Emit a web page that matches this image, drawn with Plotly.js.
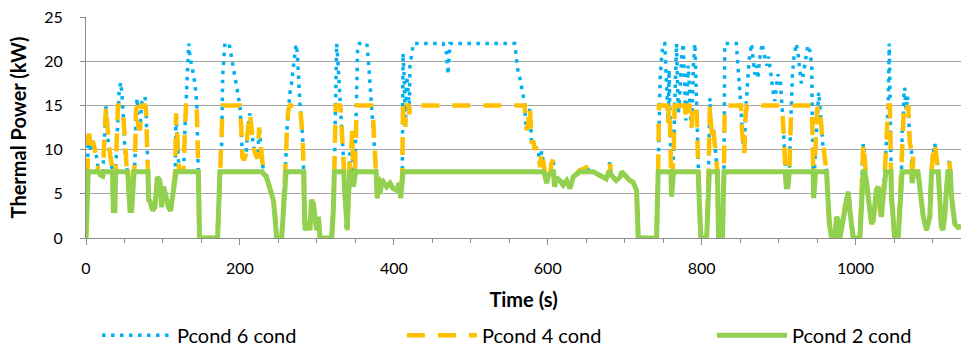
<!DOCTYPE html>
<html>
<head>
<meta charset="utf-8">
<script src="https://cdn.plot.ly/plotly-3.0.1.min.js"></script>
<style>html,body{margin:0;padding:0;background:#fff;}#chart{width:961px;height:350px;}</style>
</head>
<body>
<div id="chart"></div>
<script>
// Time (s)
var timeS = [
0,2,3,4.3,6,8.7,10.4,13,14.7,16,
19,21.7,23,24.5,26,27.5,29,31.2,33.3,34.5,
35.5,37.5,38.5,39.5,40.5,41.5,43,45,46.5,48,
49.5,51,52.8,54,55,57.2,59.3,61,62.5,63.7,
65,66.5,68,70.2,72.3,74.5,76.7,78,79.5,80.5,
81.5,83,86.6,89.6,92.7,96,98.3,100.5,104,107,
110,113.5,116,117,118,119.5,121,126,127,128.6,
130,131.5,132.5,133.5,135,137.3,139.5,141.6,143.8,145,
146,147.5,171,174,175,176.3,177.6,179.3,180.5,186,
189,192,195,198,200,202,203,205,208,210,
213,215,217,220,223,225,227,229,231,234,
237,241,243.4,245.6,247.7,254.2,256.4,258.6,260,261,
263,265,267,269,271,273,274.5,275.5,277,278,
280,281.5,282.5,283,283.5,284,284.6,286.8,289,291,
293,295.4,297.5,299.7,302,304,319.2,321.4,322.7,323.5,
324.5,325.7,327,328.5,330,331,332.2,334.4,335,336.5,
338,339.5,341,342,343,345,346,347,347.5,349.5,
350.5,351.7,353,355,365,367,369,371,373.3,375.5,
377,378.5,380,382,384,386,390.7,395,399,403.7,
407,409,411,412,413.5,415,416.7,418.8,420,421,
423,425.3,464,466,468.6,469.5,470.5,471.5,473,557,
558.5,559.6,561.7,564,566,568,570,571,572.6,574.7,
576.9,578,579,581,583,585,588,590,592,594,
596,598.6,601,603,605,607.2,609,611.6,614,616,
620,624.6,629,633,637.5,642,646,650,654,659,
663,668,672,676,679,680.8,682,685,689,694,
696,698,702,706.7,711,715.4,717.6,741.4,743.5,744.5,
746,748,750,752,753.5,755,756.6,757.7,759,760,
761,762,763.5,765,766.5,767.4,768.5,769.6,771,773,
774.5,776,777,778.2,779.5,781,782.5,784,785,786.9,
788,789.5,791.2,792.5,793.5,794.5,795.5,797,799,806.5,
809,810,810.7,812,813.5,815,817,819,820.5,822,
827,829,830,845,847,849,851,852.5,854,855.5,
857,859,861.5,864.8,867,869,871,873,875,877,
878.5,880.5,883,885,887,889,891,893,895,897,
899,902,904,905.5,907,908.5,910,912,914,915,
916.5,918,920,923,925,926.5,928,929.5,931,933,
935,938,940,941.5,943,944,945,945.5,946.5,948,
950,952,954,956,958,960,962.3,964,966,968.8,
973,975.3,977.5,979.6,983,988,990.4,992.6,994.8,997,
1005.6,1007.7,1010,1012,1014,1018.6,1020.8,1023,1027,1029.4,
1031.6,1033.7,1035.9,1038,1039.5,1041,1042.5,1043.7,1044.6,1045.5,
1046,1046.7,1048.9,1051,1055.4,1057.6,1059.7,1060.5,1062,1063,
1064,1065,1066.2,1067.3,1068.4,1069.5,1070.6,1072.7,1073.5,1074.9,
1076,1081,1083,1085,1088,1092.2,1096.5,1098.7,1100,1103,
1105,1106.5,1107.5,1109,1111.5,1113.6,1115.8,1118,1120,1121.7,
1123,1124.6,1127,1129,1133,1137
];

// Pcond 6 cond (kW)
var pcond6 = [
0,8.8,11.5,11.8,10,11,10.3,9.2,8.8,7.5,
7.1,7.0,10,13.4,14.9,13,10.7,9.5,8.4,7.5,
3.1,3.1,7.5,9.5,12.5,15,16.5,17.6,16.5,14.5,
11.8,9.2,8,7.5,6.5,3.1,3.1,7.5,7.5,8.8,
14.4,15.8,12.5,12.2,15.3,15.6,16,14.5,9,7.5,
4.3,4.2,3.1,3.5,6.9,6.5,3.5,5.8,4.7,3.5,
3.1,5.8,7.5,14.1,12,9.5,7.5,7.5,8,12.5,
15.5,19,21.5,22,20.5,19.7,18.6,17.4,15.5,11,
7.5,0,0,7.5,9,10.7,18.3,21.7,22,22,
20.5,19,17.5,16,15,12,9.2,8.8,9.5,12,
14.1,12.5,10.7,9.5,9,12.5,10,8.8,7.2,7.0,
6.2,5,4.3,2.4,0,0,3.1,7.5,9.5,12.2,
14.5,16.4,17.5,19,20.5,21.9,21,19,17,15.2,
13,11.5,8.5,7.5,4.7,1.6,0.9,1.2,2.0,0.9,
4.3,3.9,2.4,0.9,2.4,0,0,3.1,7.5,12,
17,22,20.5,18.5,16.4,14.5,12.6,9.2,7.5,4.7,
1.25,0.9,4.7,7.5,9.5,10.5,12.2,7.5,5.8,7.5,
12,18.3,21.8,22,22,20,17.5,15.5,13.2,9.8,
7.5,4.5,6.9,5,6.2,6.4,5.8,6.2,5.6,5.4,
6.2,4.5,7.5,20.9,18,12.6,18.3,16.4,14,19.5,
21,22,22,21.5,20.9,19.4,18.5,20,22,22,
21,20.7,18.6,18,17.2,16,15.2,13.3,12.2,13,
14.8,12.6,10.7,11,10,10.3,9.6,8.0,9.8,8.8,
7.2,6.2,7.1,7.3,8.5,8.9,5.8,6.9,6.5,6.5,
6.0,6.5,5.6,6.9,7.3,7.7,7.8,8.0,7.6,7.5,
7.3,7.1,6.9,6.7,7.4,8.8,7.2,6.9,6.5,6.9,
7.5,7.3,6.9,6.5,6.3,5.4,0,0,7.5,15,
18,20.5,22,22,19,17,13,19,12.5,8,
4.7,7.5,9.5,15,20,22,18,14,15.5,19,
21,22,20,17,13.3,15.5,19.5,17,14,12.5,
16,20,22,18,14,10,7.5,4,0,0,
7.5,12,15.8,13,11.5,12.5,10.5,9,7.5,0,
0,7.5,22,22,20,17.5,15,12,10.7,9.5,
14,17.5,20,22,20,18.5,19.5,18,20,21,
22,21,20,19.5,20.5,19,18,16.5,15.5,17.5,
18.5,18,16,13.5,11,9,5.8,5.8,7.5,11,
15,18.5,20.5,22,21,19.5,18.5,17.5,18,19,
20.5,21.8,21.5,20.5,19.5,12,7.5,4.5,7.5,10,
14.5,16.5,14.5,12,10,9,7.5,4.7,1.6,0,
0,2.4,2.0,0,1.6,4.7,5.2,3.1,0.9,0,
0,4.7,10.7,8.8,6.5,3.1,1.6,2.0,5.4,5.8,
3.1,2.4,4.7,7.5,10,13,15.5,22,15,10,
7.5,4.7,1.6,0,0,4.7,7.5,12,13.7,16.5,
17,15,14.5,16,15.5,12.5,10.7,10,6.2,9.2,
7.5,7.5,6.2,4.7,2.4,0.9,2.4,7.5,9,10.7,
9.5,8,7.5,5,1.25,0.9,2.4,5.4,7.5,8.8,
7.5,4.7,2.4,1.6,1.2,1.3
];

// Pcond 4 cond (kW)
var pcond4 = [
0,8.8,11.5,11.8,10,11,10.3,9.2,8.8,7.5,
7.1,7.0,10,13.4,14.9,13,10.7,9.5,8.4,7.5,
3.1,3.1,7.5,9.5,12.5,15,15,15,15,14.5,
11.8,9.2,8,7.5,6.5,3.1,3.1,7.5,7.5,8.8,
14.4,15,12.5,12.2,15,15,15,14.5,9,7.5,
4.3,4.2,3.1,3.5,6.9,6.5,3.5,5.8,4.7,3.5,
3.1,5.8,7.5,14.1,12,9.5,7.5,7.5,8,12.5,
15,15,15,15,15,15,15,15,15,11,
7.5,0,0,7.5,9,10.7,15,15,15,15,
15,15,15,15,15,12,9.2,8.8,9.5,12,
14.1,12.5,10.7,9.5,9,12.5,10,8.8,7.2,7.0,
6.2,5,4.3,2.4,0,0,3.1,7.5,9.5,12.2,
14.5,15,15,15,15,15,15,15,15,15,
13,11.5,8.5,7.5,4.7,1.6,0.9,1.2,2.0,0.9,
4.3,3.9,2.4,0.9,2.4,0,0,3.1,7.5,12,
15,15,15,15,15,14.5,12.6,9.2,7.5,4.7,
1.25,0.9,4.7,7.5,9.5,10.5,12.2,7.5,5.8,7.5,
12,15,15,15,15,15,15,15,13.2,9.8,
7.5,4.5,6.9,5,6.2,6.4,5.8,6.2,5.6,5.4,
6.2,4.5,7.5,15,15,12.6,15,15,14,15,
15,15,15,15,15,15,15,15,15,15,
15,15,15,15,15,15,15,13.3,12.2,13,
14.8,12.6,10.7,11,10,10.3,9.6,8.0,9.8,8.8,
7.2,6.2,7.1,7.3,8.5,8.9,5.8,6.9,6.5,6.5,
6.0,6.5,5.6,6.9,7.3,7.7,7.8,8.0,7.6,7.5,
7.3,7.1,6.9,6.7,7.4,8.8,7.2,6.9,6.5,6.9,
7.5,7.3,6.9,6.5,6.3,5.4,0,0,7.5,15,
15,15,15,15,15,15,13,15,12.5,8,
4.7,7.5,9.5,15,15,15,15,14,15,15,
15,15,15,15,13.3,15,15,15,14,12.5,
15,15,15,15,14,10,7.5,4,0,0,
7.5,12,15,13,11.5,12.5,10.5,9,7.5,0,
0,7.5,15,15,15,15,15,12,10.7,9.5,
14,15,15,15,15,15,15,15,15,15,
15,15,15,15,15,15,15,15,15,15,
15,15,15,13.5,11,9,5.8,5.8,7.5,11,
15,15,15,15,15,15,15,15,15,15,
15,15,15,15,15,12,7.5,4.5,7.5,10,
14.5,15,14.5,12,10,9,7.5,4.7,1.6,0,
0,2.4,2.0,0,1.6,4.7,5.2,3.1,0.9,0,
0,4.7,10.7,8.8,6.5,3.1,1.6,2.0,5.4,5.8,
3.1,2.4,4.7,7.5,10,13,15,15,15,10,
7.5,4.7,1.6,0,0,4.7,7.5,12,13.7,15,
15,15,14.5,15,15,12.5,10.7,10,6.2,9.2,
7.5,7.5,6.2,4.7,2.4,0.9,2.4,7.5,9,10.7,
9.5,8,7.5,5,1.25,0.9,2.4,5.4,7.5,8.8,
7.5,4.7,2.4,1.6,1.2,1.3
];

// Pcond 2 cond (kW)
var pcond2 = [
0,7.5,7.5,7.5,7.5,7.5,7.5,7.5,7.5,7.5,
7.1,7.0,7.5,7.5,7.5,7.5,7.5,7.5,7.5,7.5,
3.1,3.1,7.5,7.5,7.5,7.5,7.5,7.5,7.5,7.5,
7.5,7.5,7.5,7.5,6.5,3.1,3.1,7.5,7.5,7.5,
7.5,7.5,7.5,7.5,7.5,7.5,7.5,7.5,7.5,7.5,
4.3,4.2,3.1,3.5,6.9,6.5,3.5,5.8,4.7,3.5,
3.1,5.8,7.5,7.5,7.5,7.5,7.5,7.5,7.5,7.5,
7.5,7.5,7.5,7.5,7.5,7.5,7.5,7.5,7.5,7.5,
7.5,0,0,7.5,7.5,7.5,7.5,7.5,7.5,7.5,
7.5,7.5,7.5,7.5,7.5,7.5,7.5,7.5,7.5,7.5,
7.5,7.5,7.5,7.5,7.5,7.5,7.5,7.5,7.2,7.0,
6.2,5,4.3,2.4,0,0,3.1,7.5,7.5,7.5,
7.5,7.5,7.5,7.5,7.5,7.5,7.5,7.5,7.5,7.5,
7.5,7.5,7.5,7.5,4.7,1.6,0.9,1.2,2.0,0.9,
4.3,3.9,2.4,0.9,2.4,0,0,3.1,7.5,7.5,
7.5,7.5,7.5,7.5,7.5,7.5,7.5,7.5,7.5,4.7,
1.25,0.9,4.7,7.5,7.5,7.5,7.5,7.5,5.8,7.5,
7.5,7.5,7.5,7.5,7.5,7.5,7.5,7.5,7.5,7.5,
7.5,4.5,6.9,5,6.2,6.4,5.8,6.2,5.6,5.4,
6.2,4.5,7.5,7.5,7.5,7.5,7.5,7.5,7.5,7.5,
7.5,7.5,7.5,7.5,7.5,7.5,7.5,7.5,7.5,7.5,
7.5,7.5,7.5,7.5,7.5,7.5,7.5,7.5,7.5,7.5,
7.5,7.5,7.5,7.5,7.5,7.5,7.5,7.5,7.5,7.5,
7.2,6.2,7.1,7.3,7.5,7.5,5.8,6.9,6.5,6.5,
6.0,6.5,5.6,6.9,7.3,7.5,7.5,7.5,7.5,7.5,
7.3,7.1,6.9,6.7,7.4,7.5,7.2,6.9,6.5,6.9,
7.5,7.3,6.9,6.5,6.3,5.4,0,0,7.5,7.5,
7.5,7.5,7.5,7.5,7.5,7.5,7.5,7.5,7.5,7.5,
4.7,7.5,7.5,7.5,7.5,7.5,7.5,7.5,7.5,7.5,
7.5,7.5,7.5,7.5,7.5,7.5,7.5,7.5,7.5,7.5,
7.5,7.5,7.5,7.5,7.5,7.5,7.5,4,0,0,
7.5,7.5,7.5,7.5,7.5,7.5,7.5,7.5,7.5,0,
0,7.5,7.5,7.5,7.5,7.5,7.5,7.5,7.5,7.5,
7.5,7.5,7.5,7.5,7.5,7.5,7.5,7.5,7.5,7.5,
7.5,7.5,7.5,7.5,7.5,7.5,7.5,7.5,7.5,7.5,
7.5,7.5,7.5,7.5,7.5,7.5,5.8,5.8,7.5,7.5,
7.5,7.5,7.5,7.5,7.5,7.5,7.5,7.5,7.5,7.5,
7.5,7.5,7.5,7.5,7.5,7.5,7.5,4.5,7.5,7.5,
7.5,7.5,7.5,7.5,7.5,7.5,7.5,4.7,1.6,0,
0,2.4,2.0,0,1.6,4.7,5.2,3.1,0.9,0,
0,4.7,7.5,7.5,6.5,3.1,1.6,2.0,5.4,5.8,
3.1,2.4,4.7,7.5,7.5,7.5,7.5,7.5,7.5,7.5,
7.5,4.7,1.6,0,0,4.7,7.5,7.5,7.5,7.5,
7.5,7.5,7.5,7.5,7.5,7.5,7.5,7.5,6.2,7.5,
7.5,7.5,6.2,4.7,2.4,0.9,2.4,7.5,7.5,7.5,
7.5,7.5,7.5,5,1.25,0.9,2.4,5.4,7.5,7.5,
7.5,4.7,2.4,1.6,1.2,1.3
];

var seriesNames = ['Pcond 6 cond', 'Pcond 4 cond', 'Pcond 2 cond'];
var xTickVals = [0, 200, 400, 600, 800, 1000];
var yTickVals = [0, 5, 10, 15, 20, 25];

var FONT = 'Lato, Carlito, "Open Sans", sans-serif';

var traces = [
  {x: timeS, y: pcond6, name: seriesNames[0], type: 'scatter', mode: 'lines', legend: 'legend',
   line: {color: '#00b0f0', width: 3.5, dash: '3.5px,5.5px'}},
  {x: timeS, y: pcond4, name: seriesNames[1], type: 'scatter', mode: 'lines', legend: 'legend2',
   line: {color: '#ffc000', width: 4.5, dash: '18px,13px'}},
  {x: timeS, y: pcond2, name: seriesNames[2], type: 'scatter', mode: 'lines', legend: 'legend3',
   line: {color: '#92d050', width: 5}}
];

function legendAt(xp) {
  return {
    orientation: 'h', x: xp, xanchor: 'left', y: -0.44, yanchor: 'middle',
    itemwidth: 70, font: {family: FONT, size: 20, color: '#000'}, bgcolor: 'rgba(0,0,0,0)'
  };
}

var layout = {
  width: 961, height: 350,
  margin: {l: 86, r: 0, t: 17, b: 112, pad: 0, autoexpand: false},
  paper_bgcolor: '#ffffff', plot_bgcolor: '#ffffff',
  font: {family: FONT, size: 16, color: '#000000'},
  showlegend: true,
  xaxis: {
    range: [0, 1137], tickvals: xTickVals, ticks: 'outside', ticklen: 6, tickwidth: 1,
    tickcolor: '#8c8c8c', showline: true, linecolor: '#8c8c8c', linewidth: 1,
    showgrid: false, zeroline: false, ticklabelstandoff: 10,
    minor: {dtick: 50, tick0: 0, ticks: 'outside', ticklen: 4, tickcolor: '#8c8c8c', showgrid: false},
    tickfont: {family: FONT, size: 16, color: '#000'},
    title: {text: '<b>Time (s)</b>', font: {family: FONT, size: 20, color: '#000'}, standoff: 16}
  },
  yaxis: {
    range: [0, 25], tickvals: yTickVals, ticks: 'outside', ticklen: 5, tickwidth: 1,
    tickcolor: '#8c8c8c', showline: true, linecolor: '#8c8c8c', linewidth: 1,
    showgrid: true, gridcolor: '#a6a6a6', gridwidth: 1, zeroline: false,
    ticklabelstandoff: 14,
    tickfont: {family: FONT, size: 16, color: '#000'},
    title: {text: '<b>Thermal Power (kW)</b>', font: {family: FONT, size: 20, color: '#000'}, standoff: 12}
  },
  legend: legendAt(0.0126),
  legend2: legendAt(0.3611),
  legend3: legendAt(0.7154)
};

Plotly.newPlot('chart', traces, layout, {displayModeBar: false, staticPlot: true});
</script>
</body>
</html>
